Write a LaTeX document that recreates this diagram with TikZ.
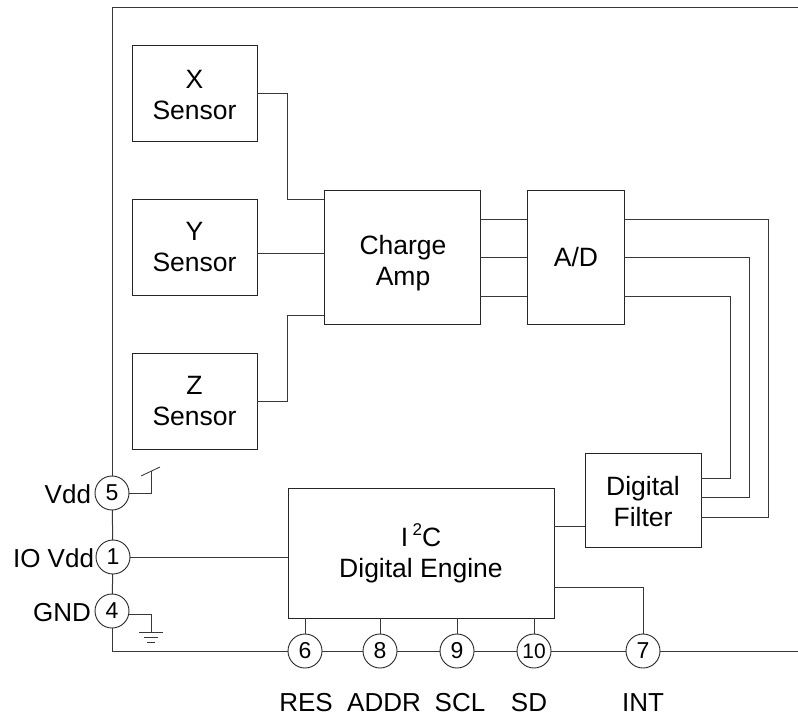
\documentclass[tikz,border=0pt]{standalone}
\usepackage{fontspec}
\setmainfont{Liberation Sans}
\tikzset{
  wire/.style={draw=black!78,line width=1pt,line join=miter},
  blk/.style={draw=black!85,line width=1pt,inner sep=0pt,outer sep=0pt},
  txt/.style={inner sep=0pt,outer sep=0pt,align=center,font=\fontsize{26.5}{31}\selectfont},
  pin/.style={circle,draw=black!85,line width=0.9pt,minimum size=34pt,inner sep=0pt,outer sep=0pt,font=\fontsize{23}{23}\selectfont},
  lbl/.style={inner sep=0pt,outer sep=0pt,font=\fontsize{26}{26}\selectfont},
  thinw/.style={wire,line width=0.85pt},
}
\begin{document}
\begin{tikzpicture}[x=1pt,y=-1pt]
\useasboundingbox (0,0) rectangle (798,717);
% blocks
\node[blk,minimum width=125pt,minimum height=95pt,label={[txt,yshift=-2pt]center:{X\\Sensor}}] (xs) at (194.5,93.5) {};
\node[blk,minimum width=125pt,minimum height=96pt,label={[txt,yshift=-0.5pt]center:{Y\\Sensor}}] (ys) at (194.5,247) {};
\node[blk,minimum width=125pt,minimum height=96pt,label={[txt]center:{Z\\Sensor}}] (zs) at (194.5,401) {};
\node[blk,minimum width=156pt,minimum height=134pt,label={[txt,yshift=-6pt,xshift=1pt]center:{Charge\\Amp}}] (amp) at (402,257) {};
\node[blk,minimum width=97pt,minimum height=134pt,label={[txt,xshift=0.5pt]center:A/D}] (adc) at (575.5,257) {};
\node[blk,minimum width=116pt,minimum height=94pt,label={[txt,yshift=-2pt]center:{Digital\\Filter}}] (flt) at (643,500) {};
\node[blk,minimum width=266pt,minimum height=130pt,label={[txt,yshift=-0.5pt]center:{I\,\raisebox{11pt}{\fontsize{17}{17}\selectfont 2}C\\Digital Engine}}] (eng) at (421,553) {};
% pins
\node[pin] (p5) at (112,493) {5};
\node[pin] (p1) at (113,557) {1};
\node[pin] (p4) at (112,611) {4};
\node[pin] (p6) at (305,651) {6};
\node[pin] (p8) at (380,651) {8};
\node[pin] (p9) at (457,651) {9};
\node[pin,font=\fontsize{21}{21}\selectfont] (p10) at (534,651) {10};
\node[pin] (p7) at (643,651) {7};
% pin labels
\node[lbl,anchor=base east] (lv) at (91,503) {Vdd};
\node[lbl,anchor=base east] (li) at (94,567) {IO Vdd};
\node[lbl,anchor=base east] (lg) at (91,621) {GND};
\node[lbl,anchor=base] (l6) at (306,711) {RES};
\node[lbl,anchor=base] (l8) at (384,711) {ADDR};
\node[lbl,anchor=base] (l9) at (460,711) {SCL};
\node[lbl,anchor=base] (l10) at (529,711) {SD};
\node[lbl,anchor=base] (l7) at (643,711) {INT};
% frame
\coordinate (tr) at (798,8);
\coordinate (tl) at (112,8);
\coordinate (bl) at (112,651);
\coordinate (br) at (798,651);
\draw[wire] (tr) -- (tl) -- (p5);
\draw[wire] (p5) -- (p1);
\draw[wire] (p1) -- (p4);
\draw[wire] (p4) -- (bl) -- (p6);
\draw[wire] (p6) -- (p8);
\draw[wire] (p8) -- (p9);
\draw[wire] (p9) -- (p10);
\draw[wire] (p10) -- (p7);
\draw[wire] (p7) -- (br);
% sensors to amp
\coordinate (ax) at (amp.west |- 0,199);
\coordinate (ay) at (amp.west |- 0,253);
\coordinate (az) at (amp.west |- 0,315);
\draw[wire] (xs.east) -- (287,93.5) -- (287,199) -- (ax);
\draw[wire] (ys.east |- ay) -- (ay);
\draw[wire] (zs.east) -- (287,401) -- (287,315) -- (az);
% amp to A/D
\coordinate (a1) at (amp.east |- 0,219);
\coordinate (a2) at (amp.east |- 0,257);
\coordinate (a3) at (amp.east |- 0,296);
\draw[wire] (a1) -- (adc.west |- a1);
\draw[wire] (a2) -- (adc.west |- a2);
\draw[wire] (a3) -- (adc.west |- a3);
% A/D to filter
\coordinate (f1) at (flt.east |- 0,517);
\coordinate (f2) at (flt.east |- 0,497);
\coordinate (f3) at (flt.east |- 0,478);
\draw[wire] (adc.east |- a1) -- (768,219) -- (768,517) -- (f1);
\draw[wire] (adc.east |- a2) -- (749,257) -- (749,497) -- (f2);
\draw[wire] (adc.east |- a3) -- (730,296) -- (730,478) -- (f3);
% filter to engine
\coordinate (e1) at (eng.east |- 0,526);
\draw[wire] (flt.west |- e1) -- (e1);
% engine to pins
\draw[wire] (p6) -- (p6 |- eng.south);
\draw[wire] (p8) -- (p8 |- eng.south);
\draw[wire] (p9) -- (p9 |- eng.south);
\draw[wire] (p10) -- (p10 |- eng.south);
\coordinate (e2) at (eng.east |- 0,587);
\draw[wire] (e2) -- (p7 |- e2) -- (p7);
\draw[wire] (p1) -- (eng.west |- p1);
% Vdd stub
\coordinate (vs) at (151,493);
\coordinate (vt) at (151,471);
\coordinate (va) at (141,476);
\coordinate (vb) at (160,467);
\draw[thinw] (p5) -- (vs) -- (vt);
\draw[thinw] (va) -- (vb);
% ground
\coordinate (gs) at (151,614);
\coordinate (gt) at (151,632);
\draw[thinw] (p4.east |- gs) -- (gs) -- (gt);
\coordinate (g1a) at (139,632); \coordinate (g1b) at (163,632);
\coordinate (g2a) at (144,637); \coordinate (g2b) at (158,637);
\coordinate (g3a) at (147,642); \coordinate (g3b) at (155,642);
\draw[thinw] (g1a) -- (g1b);
\draw[thinw] (g2a) -- (g2b);
\draw[thinw] (g3a) -- (g3b);
\end{tikzpicture}
\end{document}
